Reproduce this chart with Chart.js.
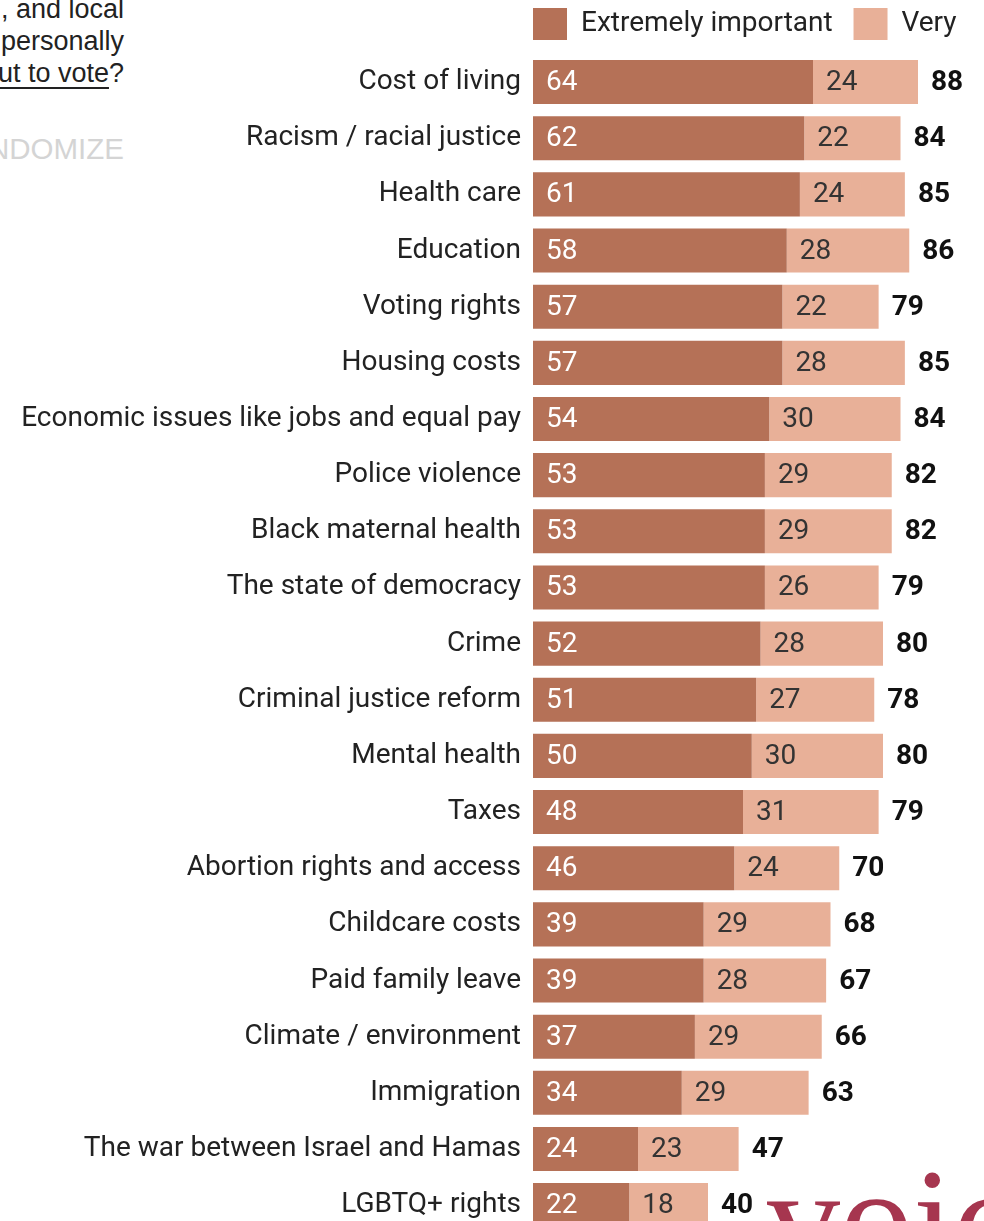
<!DOCTYPE html>
<html>
<head>
<meta charset="utf-8">
<script src="https://cdn.jsdelivr.net/npm/chart.js@4/dist/chart.umd.min.js"></script>
<style>
  html, body { margin: 0; padding: 0; background: #fff; overflow: hidden; }
  body { width: 984px; height: 1221px; position: relative; }
  #wrap { position: absolute; left: 0; top: 0; width: 984px; height: 1262px; }
  .question {
    position: absolute; right: 860px; top: -7px;
    font-family: "Liberation Sans", Arial, sans-serif; font-size: 27px;
    line-height: 32px; color: #222; text-align: right; white-space: nowrap;
  }
  .question u { text-decoration-thickness: 2px; text-underline-offset: 5px; }
  .randomize {
    position: absolute; right: 860px; top: 134px;
    font-family: "Liberation Sans", Arial, sans-serif; font-size: 29.5px;
    line-height: 30px; color: #d4d4d4; white-space: nowrap;
  }
  .logo {
    position: absolute; left: 767px; top: 1147px;
    font-family: "Liberation Serif", "Times New Roman", serif; font-size: 146px;
    line-height: 146px; color: #a6364f; white-space: nowrap;
  }
</style>
</head>
<body>
<div class="question">, and local<br>personally<br><u>out to vote</u>?</div>
<div class="randomize">RANDOMIZE</div>
<div id="wrap"><canvas id="issuesChart" width="984" height="1262"></canvas></div>
<div class="logo">voices</div>

<script>
// Issues ranked by share saying "extremely" / "very" important
const issues = [
    'Cost of living',
    'Racism / racial justice',
    'Health care',
    'Education',
    'Voting rights',
    'Housing costs',
    'Economic issues like jobs and equal pay',
    'Police violence',
    'Black maternal health',
    'The state of democracy',
    'Crime',
    'Criminal justice reform',
    'Mental health',
    'Taxes',
    'Abortion rights and access',
    'Childcare costs',
    'Paid family leave',
    'Climate / environment',
    'Immigration',
    'The war between Israel and Hamas',
    'LGBTQ+ rights'
];
const extremely = [64, 62, 61, 58, 57, 57, 54, 53, 53, 53, 52, 51, 50, 48, 46, 39, 39, 37, 34, 24, 22];
const very      = [24, 22, 24, 28, 22, 28, 30, 29, 29, 26, 28, 27, 30, 31, 24, 29, 28, 29, 29, 23, 18];
const totals    = [88, 84, 85, 86, 79, 85, 84, 82, 82, 79, 80, 78, 80, 79, 70, 68, 67, 66, 63, 47, 40];

const DARK = '#b57157';
const LIGHT = '#e8b098';
const FONT = 'Roboto, "Noto Sans", sans-serif';

// Segment values inside the bars plus the bold total after each bar
const valueLabels = {
    id: 'valueLabels',
    afterDatasetsDraw(chart) {
        const ctx = chart.ctx;
        ctx.save();
        ctx.textAlign = 'left';
        ctx.textBaseline = 'middle';
        chart.data.datasets.forEach((ds, di) => {
            const meta = chart.getDatasetMeta(di);
            meta.data.forEach((bar, i) => {
                ctx.font = '28px ' + FONT;
                ctx.fillStyle = di === 0 ? '#ffffff' : '#333333';
                ctx.fillText(ds.data[i], bar.base + 13, bar.y + 1);
                if (di === 1) {
                    ctx.font = 'bold 28px ' + FONT;
                    ctx.fillStyle = '#111111';
                    ctx.fillText(totals[i], bar.x + 13, bar.y + 1);
                }
            });
        });
        ctx.restore();
    }
};

const ctx = document.getElementById('issuesChart');
new Chart(ctx, {
    type: 'bar',
    data: {
        labels: issues,
        datasets: [{
            label: 'Extremely important   ',
            data: extremely,
            backgroundColor: DARK,
            borderWidth: 0
        }, {
            label: 'Very',
            data: very,
            backgroundColor: LIGHT,
            borderWidth: 0
        }]
    },
    options: {
        indexAxis: 'y',
        responsive: false,
        animation: false,
        devicePixelRatio: 1,
        layout: {
            padding: { top: 8, right: 13.5, bottom: 0, left: 0 }
        },
        datasets: {
            bar: {
                barPercentage: 0.785,
                categoryPercentage: 1
            }
        },
        scales: {
            x: {
                stacked: true,
                position: 'top',
                min: 0,
                max: 100,
                grid: { display: false, drawTicks: false },
                border: { display: false },
                ticks: { display: false },
                afterFit: function(scale) { scale.height = 4; }
            },
            y: {
                stacked: true,
                grid: { display: false, drawTicks: false },
                border: { display: false },
                ticks: {
                    color: '#222222',
                    padding: 12,
                    font: { family: FONT, size: 28 }
                },
                afterFit: function(scale) { scale.width = 533; }
            }
        },
        plugins: {
            legend: {
                display: true,
                position: 'top',
                align: 'start',
                fullSize: false,
                labels: {
                    boxWidth: 34,
                    boxHeight: 32,
                    padding: 0,
                    color: '#222222',
                    font: { family: FONT, size: 28 }
                }
            },
            tooltip: { enabled: false }
        }
    },
    plugins: [valueLabels]
});
</script>
</body>
</html>
